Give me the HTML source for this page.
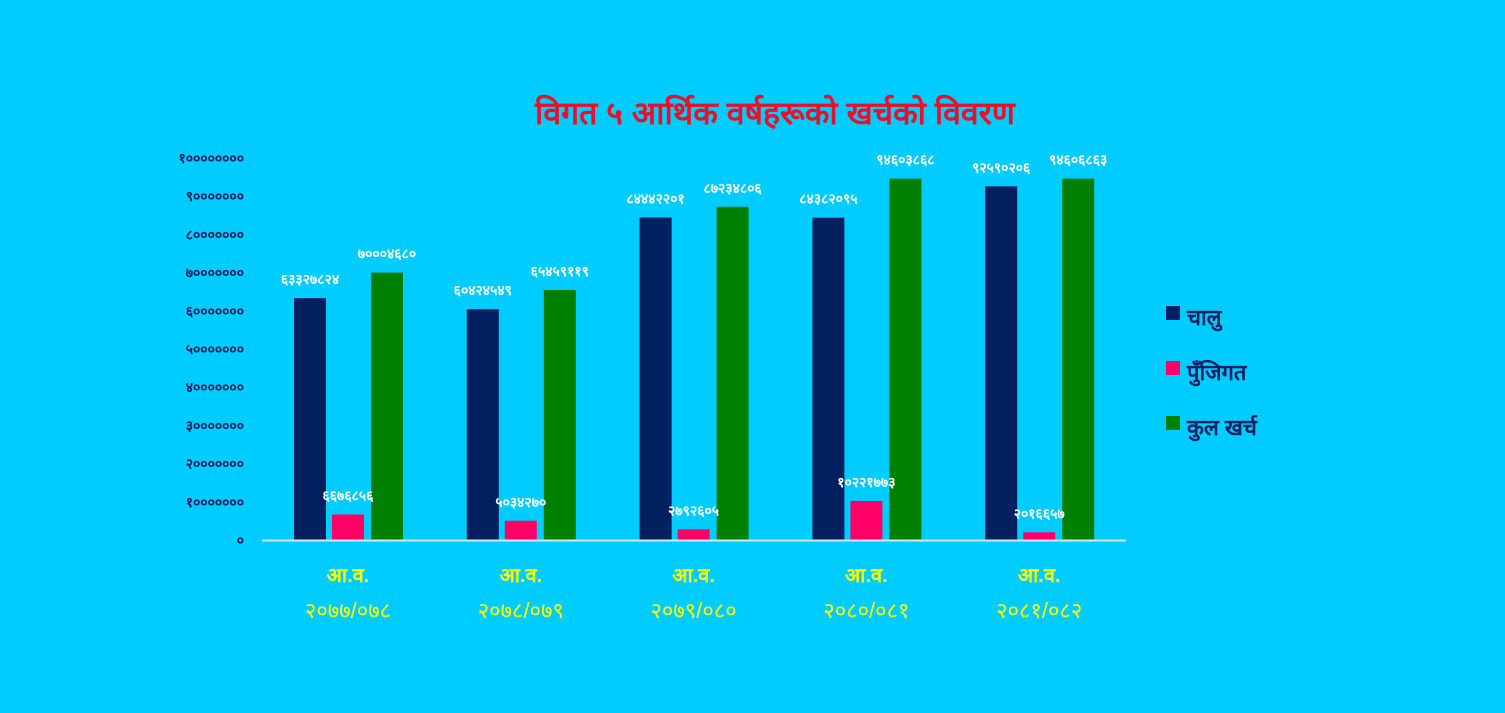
<!DOCTYPE html>
<html><head><meta charset="utf-8"><style>
body{margin:0;background:#00CCFF;}
svg{display:block;font-family:"Liberation Sans","DejaVu Sans",sans-serif;}
</style></head><body>
<svg width="1505" height="713">
<rect width="1505" height="713" fill="#00CCFF"/>
<text x="775" y="124" text-anchor="middle" font-size="32" font-weight="bold" fill="#E8102A">विगत ५  आर्थिक वर्षहरूको खर्चको विवरण</text>
<g id="axis"></g><g id="bars"></g><g id="labels"></g>
<line x1="262" y1="540.5" x2="1126" y2="540.5" stroke="#D9E8F0" stroke-width="2"/>
<g>
<rect x="1166" y="306" width="14" height="14" fill="#002060"/>
<text x="1187" y="325" font-size="22" font-weight="bold" fill="#002060">चालु</text>
<rect x="1166" y="361" width="14" height="14" fill="#FF0066"/>
<text x="1187" y="380" font-size="22" font-weight="bold" fill="#002060">पुँजिगत</text>
<rect x="1166" y="416" width="14" height="14" fill="#008000"/>
<text x="1187" y="435" font-size="22" font-weight="bold" fill="#002060">कुल खर्च</text>
</g>
</svg>
<script>
const categories=["२०७७/०७८","२०७८/०७९","२०७९/०८०","२०८०/०८१","२०८१/०८२"];
const currentValues=[63327824,60424549,84442201,84382095,92590206];
const capitalValues=[6676856,5034270,2792605,10221773,2016657];
const totalValues=[70004680,65459119,87234806,94603868,94606863];
const yTicks=[0,10000000,20000000,30000000,40000000,50000000,60000000,70000000,80000000,90000000,100000000];
const NS="http://www.w3.org/2000/svg";
const dev=n=>String(n).replace(/\d/g,d=>"०१२३४५६७८९"[d]);
const y=v=>540-v/100000000*382;
const x0=262,gw=172.8;
const gx=i=>x0+gw*i;
function mk(tag,attrs,parent){const e=document.createElementNS(NS,tag);for(const k in attrs)e.setAttribute(k,attrs[k]);parent.appendChild(e);return e;}
const ax=document.getElementById('axis'),bars=document.getElementById('bars'),lab=document.getElementById('labels');
yTicks.forEach(t=>{const e=mk('text',{x:244,y:y(t)+5,'text-anchor':'end','font-size':14,'font-weight':'bold',fill:'#002060'},ax);


e.textContent=dev(t);});
const series=[[currentValues,'#002060',32,'current'],[capitalValues,'#FF0066',70,'capital'],[totalValues,'#008000',109,'total']];
categories.forEach((c,i)=>{
 series.forEach(([vals,col,off,nm])=>{
  const bx=gx(i)+off;
  const r=mk('rect',{x:bx,y:y(vals[i]),width:32,height:540-y(vals[i]),fill:col},bars);
  
  
  const t=mk('text',{x:bx+16,y:y(vals[i])-14,'text-anchor':'middle','font-size':14,'font-weight':'bold',fill:'#fff'},lab);
  
  
  t.textContent=dev(vals[i]);
 });
 const a=mk('text',{x:gx(i)+86,y:582,'text-anchor':'middle','font-size':20,'font-weight':'bold',fill:'#FFFF00'},ax);
 
 
 a.textContent='आ.व.';
 const b=mk('text',{x:gx(i)+86,y:618,'text-anchor':'middle','font-size':22,fill:'#FFFF00'},ax);
 
 
 b.textContent=c;
});
</script>
</body></html>
